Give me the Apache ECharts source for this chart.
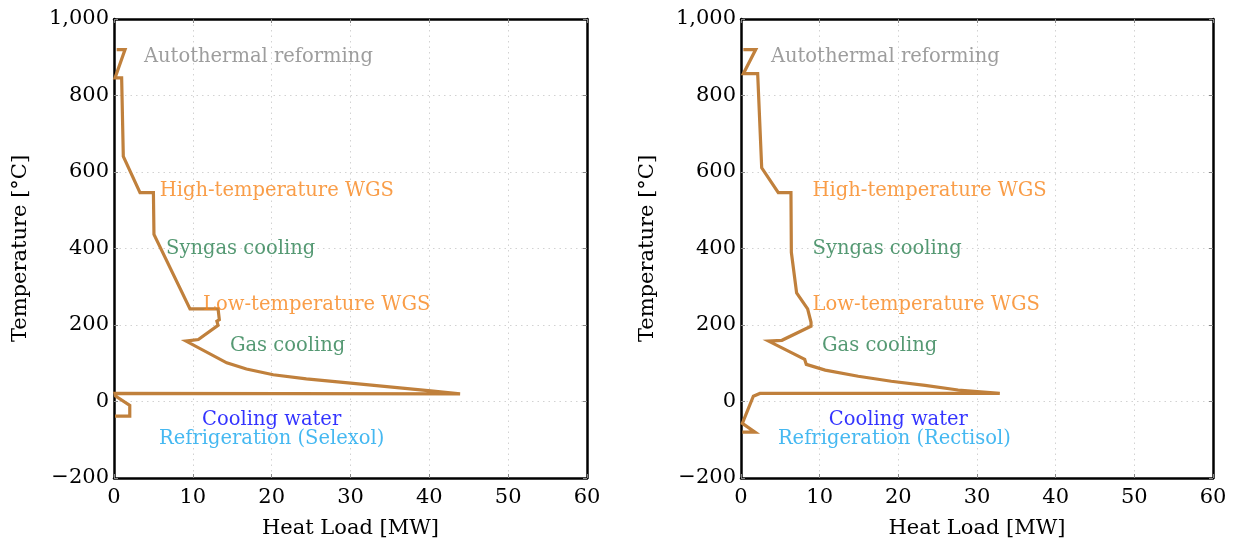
<!DOCTYPE html>
<html><head><meta charset="utf-8">
<script src="https://cdn.jsdelivr.net/npm/echarts@6/dist/echarts.min.js"></script>
<style>html,body{margin:0;padding:0;background:#fff}#c{width:1236px;height:545px}</style>
</head><body><div id="c"></div>
<script>
// Left panel (Selexol) composite curve
const leftLoad = [0.34, 1.4, 0.13, 0.97, 1.18, 3.3, 5.0, 5.07, 9.64, 13.2, 13.36, 13.05, 13.2, 10.7, 9.13, 14.3, 16.8, 20.2, 24.4, 32.0, 40.5, 43.9, 0.13, 0.2, 2.0, 2.0, 0.13];
const leftTemp = [920, 920, 846, 846, 641, 546, 546, 437, 242, 242, 214, 210, 199, 162, 158, 101, 85, 70, 59, 44, 27, 20, 21, 14, -10, -38, -38];
// Right panel (Rectisol) composite curve
const rightLoad = [0.3, 1.87, 0.3, 2.12, 2.63, 4.74, 6.35, 6.4, 7.07, 8.47, 8.9, 8.9, 5.2, 3.5, 8.1, 8.3, 10.7, 14.9, 19.1, 23.4, 27.6, 32.9, 2.4, 1.57, 0.17, 1.78, 0.17];
const rightTemp = [920, 920, 857, 857, 611, 546, 546, 390, 284, 242, 207, 197, 160, 158, 110, 97, 82, 66, 53, 42, 30, 21, 21, 14, -57, -80, -80];

const yTicks = [-200, 0, 200, 400, 600, 800, 1000];
const xTicks = [0, 10, 20, 30, 40, 50, 60];

const leftLabels = [
  {text: 'Autothermal reforming', x: 3.8, y: 900, color: '#848484', align: 'left'},
  {text: 'High-temperature WGS', x: 5.8, y: 550, color: '#f7841a', align: 'left'},
  {text: 'Syngas cooling', x: 6.6, y: 400, color: '#2a7f50', align: 'left'},
  {text: 'Low-temperature WGS', x: 11.3, y: 252, color: '#f7841a', align: 'left'},
  {text: 'Gas cooling', x: 14.7, y: 146, color: '#2a7f50', align: 'left'},
  {text: 'Cooling water', x: 20.0, y: -47, color: '#0000ff', align: 'center'},
  {text: 'Refrigeration (Selexol)', x: 20.0, y: -97, color: '#16a6ee', align: 'center'}
];
const rightLabels = [
  {text: 'Autothermal reforming', x: 3.8, y: 900, color: '#848484', align: 'left'},
  {text: 'High-temperature WGS', x: 9.1, y: 550, color: '#f7841a', align: 'left'},
  {text: 'Syngas cooling', x: 9.1, y: 400, color: '#2a7f50', align: 'left'},
  {text: 'Low-temperature WGS', x: 9.1, y: 252, color: '#f7841a', align: 'left'},
  {text: 'Gas cooling', x: 10.3, y: 146, color: '#2a7f50', align: 'left'},
  {text: 'Cooling water', x: 20.0, y: -47, color: '#0000ff', align: 'center'},
  {text: 'Refrigeration (Rectisol)', x: 19.5, y: -97, color: '#16a6ee', align: 'center'}
];

const FONT = 'DejaVu Serif';
const FS = 19.5;   // annotation size
const AFS = 21;    // axis text size
const LINE = '#c0803c';

const zip = (a, b) => a.map((v, i) => [v, b[i]]);

function yFmt(v) {
  if (v < 0) return '\u2212' + Math.abs(v);
  if (v >= 1000) return v.toLocaleString('en-US');
  return String(v);
}

const grids = [
  {left: 114, right: 649, top: 19, bottom: 67},
  {left: 741, right: 23, top: 19, bottom: 67}
];

const xAxes = [], yAxes = [], series = [];
grids.forEach((g, i) => {
  xAxes.push({
    type: 'value', gridIndex: i, min: xTicks[0], max: xTicks[xTicks.length-1], interval: 10,
    position: 'bottom',
    name: 'Heat Load [MW]', nameLocation: 'middle', nameGap: 40,
    nameTextStyle: {fontFamily: FONT, fontSize: AFS, color: '#000'},
    axisLine: {show: true, onZero: false, lineStyle: {color: '#000', width: 2.5}},
    axisTick: {show: true, inside: true, length: 4, lineStyle: {color: '#888', width: 1}},
    axisLabel: {fontFamily: FONT, fontSize: AFS, color: '#000', margin: 9},
    splitLine: {show: true, lineStyle: {color: '#d2d2d2', type: [1.5, 4], width: 1}}
  });
  xAxes.push({
    type: 'value', gridIndex: i, min: 0, max: 60, interval: 10, position: 'top',
    axisLine: {show: true, onZero: false, lineStyle: {color: '#000', width: 2.5}},
    axisTick: {show: true, inside: true, length: 4, lineStyle: {color: '#888', width: 1}},
    axisLabel: {show: false}, splitLine: {show: false}
  });
  yAxes.push({
    type: 'value', gridIndex: i, min: yTicks[0], max: yTicks[yTicks.length-1], interval: 200,
    position: 'left',
    name: 'Temperature [°C]', nameLocation: 'middle', nameGap: 83, nameRotate: 90,
    nameTextStyle: {fontFamily: FONT, fontSize: AFS, color: '#000'},
    axisLine: {show: true, onZero: false, lineStyle: {color: '#000', width: 2.5}},
    axisTick: {show: true, inside: true, length: 4, lineStyle: {color: '#888', width: 1}},
    axisLabel: {fontFamily: FONT, fontSize: AFS, color: '#000', margin: 5, formatter: yFmt},
    splitLine: {show: true, lineStyle: {color: '#d2d2d2', type: [1.5, 4], width: 1}}
  });
  yAxes.push({
    type: 'value', gridIndex: i, min: -200, max: 1000, interval: 200, position: 'right',
    axisLine: {show: true, onZero: false, lineStyle: {color: '#000', width: 2.5}},
    axisTick: {show: true, inside: true, length: 4, lineStyle: {color: '#888', width: 1}},
    axisLabel: {show: false}, splitLine: {show: false}
  });
});

const panels = [
  {load: leftLoad, temp: leftTemp, labels: leftLabels},
  {load: rightLoad, temp: rightTemp, labels: rightLabels}
];
panels.forEach((p, i) => {
  series.push({
    type: 'line', xAxisIndex: i * 2, yAxisIndex: i * 2,
    data: zip(p.load, p.temp), showSymbol: false, symbol: 'none',
    lineStyle: {color: LINE, width: 3.2, join: 'miter'}, animation: false, z: 3
  });
  series.push({
    type: 'scatter', xAxisIndex: i * 2, yAxisIndex: i * 2,
    symbolSize: 0, animation: false, z: 4, silent: true,
    data: p.labels.map(l => ({
      value: [l.x, l.y],
      label: {show: true, position: 'inside', formatter: l.text, color: l.color,
        fontFamily: FONT, fontSize: FS, align: l.align, verticalAlign: 'middle'}
    }))
  });
});

const chart = echarts.init(document.getElementById('c'), null, {renderer: 'canvas'});
chart.setOption({
  animation: false,
  backgroundColor: '#fff',
  grid: grids,
  xAxis: xAxes,
  yAxis: yAxes,
  series: series
});
</script></body></html>
